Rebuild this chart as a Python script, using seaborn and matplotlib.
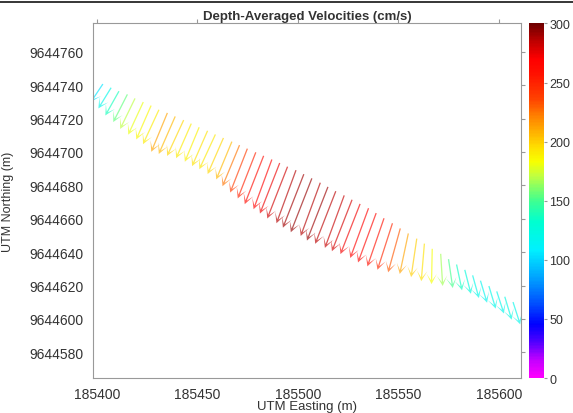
import numpy as np
import matplotlib
matplotlib.use("Agg")
import matplotlib.pyplot as plt
import seaborn as sns
from matplotlib.colors import LinearSegmentedColormap, Normalize
from matplotlib.lines import Line2D

# Ship track positions (UTM, m)
easting = [
    185403.0, 185407.1, 185411.0, 185415.2, 185419.0, 185423.1, 185427.0, 185430.9, 185435.1, 185439.0,
    185443.2, 185447.0, 185450.9, 185455.1, 185459.0, 185463.0, 185467.2, 185471.0, 185474.9, 185479.1,
    185483.0, 185487.1, 185491.0, 185494.9, 185499.1, 185503.0, 185507.0, 185511.2, 185515.0, 185518.9,
    185523.1, 185527.0, 185531.0, 185535.2, 185539.0, 185542.9, 185547.1, 185551.0, 185555.0, 185559.2,
    185563.0, 185566.9, 185571.1, 185575.0, 185579.0, 185583.1, 185587.0, 185590.9, 185595.1, 185599.0,
    185603.0, 185607.1,
]
northing = [
    9644740.7, 9644738.5, 9644736.4, 9644734.5, 9644732.1, 9644729.9, 9644727.8, 9644725.3, 9644723.4, 9644721.3,
    9644719.1, 9644717.0, 9644714.8, 9644712.7, 9644710.5, 9644708.4, 9644706.2, 9644704.1, 9644702.0, 9644699.8,
    9644697.7, 9644695.5, 9644693.4, 9644691.2, 9644689.1, 9644686.7, 9644684.2, 9644681.6, 9644679.1, 9644676.5,
    9644674.0, 9644671.4, 9644668.9, 9644666.3, 9644663.4, 9644660.3, 9644657.3, 9644654.2, 9644651.2, 9644648.1,
    9644645.1, 9644642.0, 9644639.0, 9644635.8, 9644632.6, 9644629.4, 9644626.1, 9644622.9, 9644619.7, 9644616.5,
    9644613.3, 9644610.1,
]

# Depth-averaged speed (cm/s) and flow direction (deg from north)
speed = [
    105, 120, 138, 155, 170, 180, 186, 190, 212, 206,
    198, 190, 188, 194, 192, 198, 206, 224, 238, 250,
    262, 268, 274, 281, 286, 290, 292, 287, 291, 285,
    283, 279, 272, 268, 266, 258, 248, 232, 212, 200,
    194, 182, 166, 150, 135, 126, 120, 117, 120, 118,
    122, 119,
]
bearing = [
    209, 207, 205, 203, 202, 201, 200, 201, 199, 200,
    201, 200, 199, 200, 201, 200, 199, 199, 198, 198,
    198, 197, 198, 198, 197, 198, 198, 197, 198, 198,
    197, 198, 198, 197, 197, 196, 195, 193, 190, 187,
    184, 181, 177, 173, 170, 168, 167, 166, 166, 165,
    166, 165,
]

x_ticks = [185400, 185450, 185500, 185550, 185600]
y_ticks = [9644580, 9644600, 9644620, 9644640, 9644660, 9644680, 9644700, 9644720, 9644740, 9644760]
cbar_ticks = [0, 50, 100, 150, 200, 250, 300]

sns.set_theme(style="white")
plt.rcParams['font.family'] = ['Liberation Sans', 'DejaVu Sans']

# magenta-blue-cyan-yellow-red colormap like the one in the figure
cmap = LinearSegmentedColormap.from_list("vel", [
    (0.00, "#ff00ff"), (0.05, "#c000ff"), (0.10, "#5000ff"), (0.15, "#0000ff"),
    (0.21, "#0050ff"), (0.28, "#00a0ff"), (0.36, "#00f0ff"), (0.44, "#00ffd0"),
    (0.50, "#40ff90"), (0.57, "#c0ff40"), (0.61, "#f8ff00"), (0.65, "#ffe000"),
    (0.74, "#ff8000"), (0.79, "#ff4000"), (0.86, "#ff1000"), (0.90, "#ff0000"),
    (0.95, "#c00000"), (1.00, "#700000"),
])
norm = Normalize(0, 300)

spd = np.array(speed, dtype=float)
rad = np.deg2rad(bearing)
u = spd * np.sin(rad)
v = spd * np.cos(rad)

fig = plt.figure(figsize=(5.73, 4.14), dpi=100)
ax = fig.add_axes([0.162, 0.0845, 0.747, 0.8565])
cax = fig.add_axes([0.923, 0.0845, 0.026, 0.8565])

ax.quiver(
    easting, northing, u, v, spd,
    cmap=cmap, norm=norm,
    angles='xy', scale_units='xy', scale=8.6,
    units='dots', width=1.3, headwidth=8, headlength=8, headaxislength=3,
    alpha=0.65,
)

ax.set_xlim(185398, 185611)
ax.set_ylim(9644564.6, 9644777)
ax.set_xticks(x_ticks)
ax.set_yticks(y_ticks)
ax.set_xticklabels([str(t) for t in x_ticks])
ax.set_yticklabels([str(t) for t in y_ticks])

for s in ax.spines.values():
    s.set_color('#999999')
    s.set_linewidth(0.8)
ax.tick_params(direction='out', length=3, width=0.8, color='#999999',
               labelcolor='#333333', labelsize=10,
               top=True, right=True, labeltop=False, labelright=False)

ax.set_title("Depth-Averaged Velocities (cm/s)", fontsize=9.5, fontweight='bold',
             color='#333333', pad=3)
ax.set_xlabel("UTM Easting (m)", fontsize=9.5, color='#333333')
ax.set_ylabel("UTM Northing (m)", fontsize=9, color='#333333')
ax.xaxis.set_label_coords(0.5, -0.062)
ax.yaxis.set_label_coords(-0.185, 0.5)

sm = plt.cm.ScalarMappable(norm=norm, cmap=cmap)
cb = fig.colorbar(sm, cax=cax, ticks=cbar_ticks)
cb.outline.set_visible(False)
cb.ax.tick_params(direction='out', length=2, width=0.8, pad=2, color='#999999',
                  labelcolor='#333333', labelsize=9)

# border line at the top of the screenshot
fig.add_artist(Line2D([0, 1], [0.9928, 0.9928], color='black', lw=1.1))

fig.savefig("out.png", dpi=100)
